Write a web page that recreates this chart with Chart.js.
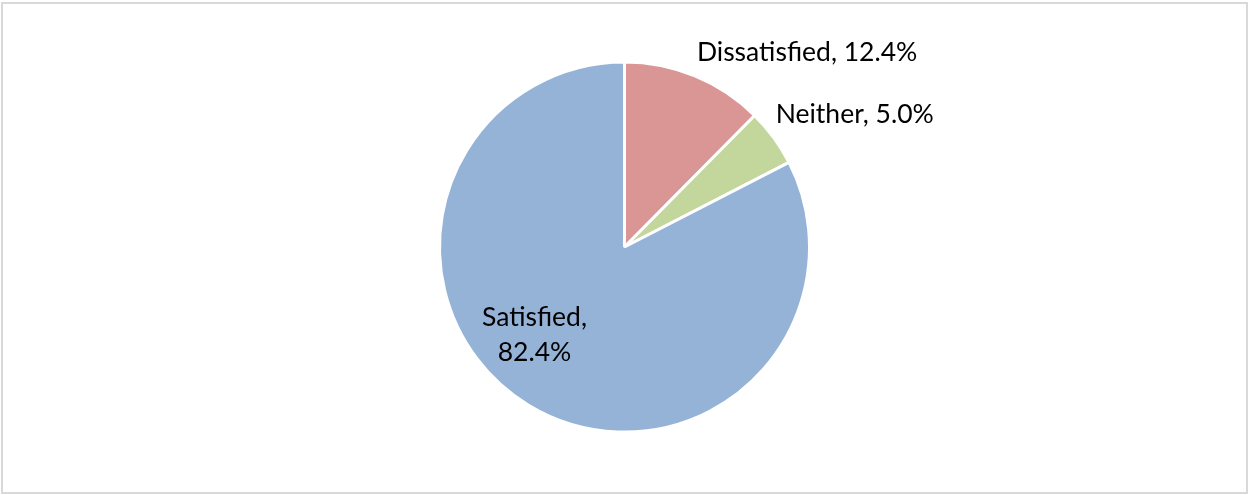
<!DOCTYPE html>
<html lang="en">
<head>
  <meta charset="UTF-8" />
  <title>Satisfaction</title>
  <script src="https://cdn.jsdelivr.net/npm/chart.js"></script>
  <style>
    body { margin: 0; background: #fff; }
    #wrap { position: relative; width: 1249px; height: 495px; }
  </style>
</head>
<body>
  <div id="wrap"><canvas id="pie" width="1249" height="495"></canvas></div>

  <script>
    const categories = ['Dissatisfied', 'Neither', 'Satisfied'];
    const shares = [12.4, 5.0, 82.4];
    const colors = ['#D99694', '#C3D69B', '#95B3D7'];
    // where Excel put each data label: outside the slice or inside it
    const labelSpots = ['outside', 'outside', 'inside'];

    const frame = {
      id: 'frame',
      beforeDraw(chart) {
        const ctx = chart.ctx;
        ctx.save();
        ctx.strokeStyle = '#D9D9D9';
        ctx.lineWidth = 2;
        ctx.strokeRect(2, 3, chart.width - 4, chart.height - 5);
        ctx.restore();
      }
    };

    const sliceLabels = {
      id: 'sliceLabels',
      afterDatasetsDraw(chart) {
        const ctx = chart.ctx;
        const arcs = chart.getDatasetMeta(0).data;
        ctx.save();
        ctx.font = '26.5px Lato, "Open Sans", sans-serif';
        ctx.fillStyle = '#000';
        arcs.forEach((arc, i) => {
          const mid = (arc.startAngle + arc.endAngle) / 2;
          const r = arc.outerRadius;
          const txt = categories[i] + ', ' + shares[i].toFixed(1) + '%';
          if (labelSpots[i] === 'outside') {
            const x = arc.x + Math.cos(mid) * r;
            const y = arc.y + Math.sin(mid) * r;
            ctx.textAlign = 'left';
            ctx.textBaseline = 'middle';
            ctx.fillText(txt, x + 2, y - 23);
          } else {
            const a = mid + 0.25;
            const x = arc.x + Math.cos(a) * r * 0.68;
            const y = arc.y + Math.sin(a) * r * 0.68;
            ctx.textAlign = 'center';
            ctx.textBaseline = 'middle';
            ctx.fillText(categories[i] + ',', x, y - 17);
            ctx.fillText(shares[i].toFixed(1) + '%', x, y + 18);
          }
        });
        ctx.restore();
      }
    };

    new Chart(document.getElementById('pie'), {
      type: 'pie',
      data: {
        labels: categories,
        datasets: [{
          data: shares,
          backgroundColor: colors,
          borderColor: '#fff',
          borderWidth: 3
        }]
      },
      options: {
        responsive: false,
        animation: false,
        events: [],
        layout: { padding: { top: 60.5, bottom: 61.5 } },
        plugins: {
          legend: { display: false },
          tooltip: { enabled: false }
        }
      },
      plugins: [frame, sliceLabels]
    });
  </script>
</body>
</html>
